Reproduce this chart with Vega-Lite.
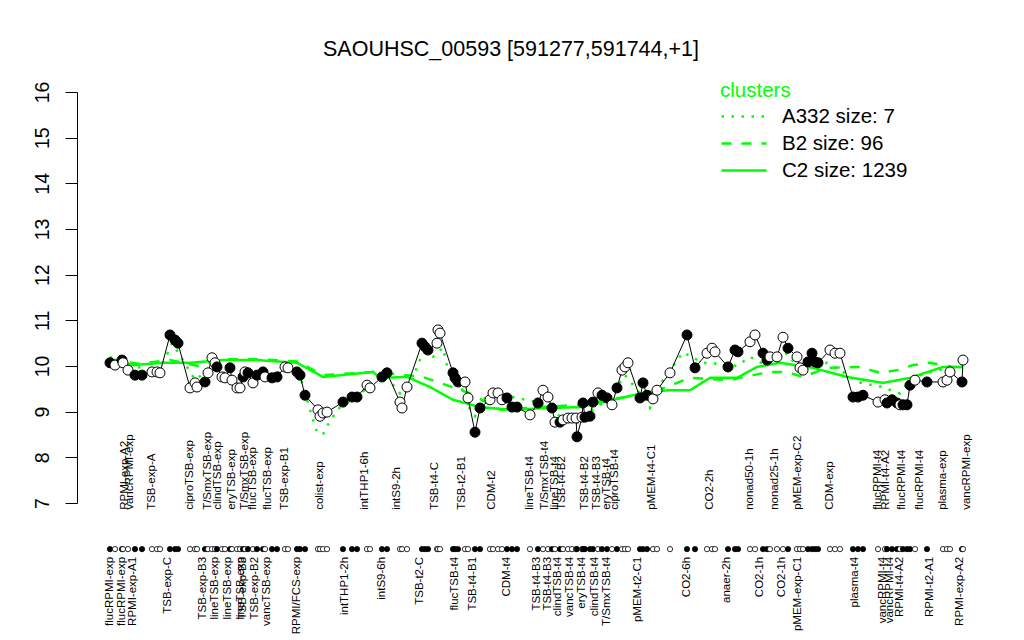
{
  "$schema": "https://vega.github.io/schema/vega-lite/v6.json",
  "width": 924,
  "height": 411,
  "autosize": {"type": "none"},
  "padding": {"left": 77, "top": 92, "right": 23, "bottom": 137},
  "background": "white",
  "title": {"text": "SAOUHSC_00593 [591277,591744,+1]", "fontSize": 21.5, "fontWeight": "normal", "font": "Liberation Sans", "color": "black", "anchor": "middle", "frame": "group", "dx": -28, "offset": 21},
  "config": {"view": {"stroke": null}, "font": "Liberation Sans"},
  "datasets": {
    "pts": [
      {"pos": 2, "val": 10.07, "f": "B"}, {"pos": 7, "val": 10.02, "f": "W"}, {"pos": 14, "val": 10.13, "f": "B"}, {"pos": 15, "val": 10.07, "f": "W"},
      {"pos": 20, "val": 9.91, "f": "W"}, {"pos": 27, "val": 9.80, "f": "B"}, {"pos": 34, "val": 9.80, "f": "B"}, {"pos": 44, "val": 9.87, "f": "W"},
      {"pos": 49, "val": 9.87, "f": "W"}, {"pos": 52, "val": 9.85, "f": "W"}, {"pos": 62, "val": 10.68, "f": "B"}, {"pos": 67, "val": 10.57, "f": "B"},
      {"pos": 70, "val": 10.50, "f": "B"}, {"pos": 82, "val": 9.52, "f": "W"}, {"pos": 87, "val": 9.63, "f": "W"}, {"pos": 89, "val": 9.54, "f": "W"},
      {"pos": 97, "val": 9.65, "f": "B"}, {"pos": 100, "val": 9.85, "f": "W"}, {"pos": 104, "val": 10.18, "f": "W"}, {"pos": 107, "val": 10.07, "f": "W"},
      {"pos": 109, "val": 9.98, "f": "B"}, {"pos": 114, "val": 9.76, "f": "W"}, {"pos": 117, "val": 9.74, "f": "W"}, {"pos": 122, "val": 9.96, "f": "B"},
      {"pos": 124, "val": 9.69, "f": "W"}, {"pos": 129, "val": 9.52, "f": "W"}, {"pos": 132, "val": 9.52, "f": "W"}, {"pos": 135, "val": 9.76, "f": "B"},
      {"pos": 137, "val": 9.87, "f": "W"}, {"pos": 140, "val": 9.85, "f": "B"}, {"pos": 145, "val": 9.63, "f": "W"}, {"pos": 149, "val": 9.80, "f": "B"},
      {"pos": 155, "val": 9.87, "f": "B"}, {"pos": 157, "val": 9.76, "f": "W"}, {"pos": 164, "val": 9.74, "f": "B"}, {"pos": 169, "val": 9.76, "f": "B"},
      {"pos": 177, "val": 9.98, "f": "W"}, {"pos": 180, "val": 9.96, "f": "W"}, {"pos": 189, "val": 9.87, "f": "B"}, {"pos": 192, "val": 9.80, "f": "B"},
      {"pos": 197, "val": 9.36, "f": "B"}, {"pos": 210, "val": 9.04, "f": "W"}, {"pos": 212, "val": 8.90, "f": "W"}, {"pos": 215, "val": 8.97, "f": "W"},
      {"pos": 219, "val": 8.99, "f": "W"}, {"pos": 235, "val": 9.21, "f": "B"}, {"pos": 244, "val": 9.32, "f": "B"}, {"pos": 249, "val": 9.32, "f": "B"},
      {"pos": 259, "val": 9.58, "f": "W"}, {"pos": 262, "val": 9.52, "f": "W"}, {"pos": 274, "val": 9.76, "f": "B"}, {"pos": 279, "val": 9.85, "f": "B"},
      {"pos": 292, "val": 9.21, "f": "W"}, {"pos": 294, "val": 9.08, "f": "W"}, {"pos": 299, "val": 9.54, "f": "W"}, {"pos": 314, "val": 10.50, "f": "B"},
      {"pos": 317, "val": 10.42, "f": "B"}, {"pos": 320, "val": 10.35, "f": "B"}, {"pos": 329, "val": 10.50, "f": "W"}, {"pos": 330, "val": 10.79, "f": "W"},
      {"pos": 332, "val": 10.72, "f": "W"}, {"pos": 345, "val": 9.85, "f": "B"}, {"pos": 347, "val": 9.74, "f": "B"}, {"pos": 350, "val": 9.65, "f": "B"},
      {"pos": 357, "val": 9.65, "f": "W"}, {"pos": 360, "val": 9.30, "f": "W"}, {"pos": 367, "val": 8.55, "f": "B"}, {"pos": 372, "val": 9.08, "f": "B"},
      {"pos": 382, "val": 9.26, "f": "W"}, {"pos": 385, "val": 9.41, "f": "W"}, {"pos": 390, "val": 9.41, "f": "W"}, {"pos": 394, "val": 9.26, "f": "W"},
      {"pos": 399, "val": 9.30, "f": "B"}, {"pos": 404, "val": 9.10, "f": "B"}, {"pos": 409, "val": 9.10, "f": "B"}, {"pos": 422, "val": 8.93, "f": "W"},
      {"pos": 430, "val": 9.19, "f": "B"}, {"pos": 435, "val": 9.47, "f": "W"}, {"pos": 440, "val": 9.32, "f": "W"}, {"pos": 444, "val": 9.08, "f": "B"},
      {"pos": 447, "val": 8.77, "f": "W"}, {"pos": 452, "val": 8.77, "f": "B"}, {"pos": 455, "val": 8.82, "f": "W"}, {"pos": 460, "val": 8.86, "f": "W"},
      {"pos": 464, "val": 8.86, "f": "W"}, {"pos": 468, "val": 8.86, "f": "W"}, {"pos": 469, "val": 8.45, "f": "B"}, {"pos": 474, "val": 8.88, "f": "W"},
      {"pos": 475, "val": 9.19, "f": "B"}, {"pos": 477, "val": 8.88, "f": "B"}, {"pos": 482, "val": 8.90, "f": "B"}, {"pos": 485, "val": 9.21, "f": "B"},
      {"pos": 490, "val": 9.41, "f": "W"}, {"pos": 494, "val": 9.36, "f": "B"}, {"pos": 499, "val": 9.30, "f": "B"}, {"pos": 504, "val": 9.15, "f": "W"},
      {"pos": 509, "val": 9.52, "f": "B"}, {"pos": 514, "val": 9.91, "f": "W"}, {"pos": 517, "val": 9.98, "f": "W"}, {"pos": 520, "val": 10.07, "f": "W"},
      {"pos": 532, "val": 9.30, "f": "B"}, {"pos": 535, "val": 9.63, "f": "B"}, {"pos": 539, "val": 9.36, "f": "B"}, {"pos": 545, "val": 9.28, "f": "W"},
      {"pos": 549, "val": 9.47, "f": "W"}, {"pos": 562, "val": 9.85, "f": "W"}, {"pos": 579, "val": 10.68, "f": "B"}, {"pos": 587, "val": 9.96, "f": "B"},
      {"pos": 599, "val": 10.28, "f": "W"}, {"pos": 604, "val": 10.39, "f": "W"}, {"pos": 607, "val": 10.31, "f": "W"}, {"pos": 620, "val": 9.98, "f": "B"},
      {"pos": 627, "val": 10.35, "f": "B"}, {"pos": 630, "val": 10.31, "f": "B"}, {"pos": 642, "val": 10.53, "f": "W"}, {"pos": 647, "val": 10.68, "f": "W"},
      {"pos": 655, "val": 10.28, "f": "B"}, {"pos": 659, "val": 10.13, "f": "B"}, {"pos": 662, "val": 10.20, "f": "W"}, {"pos": 669, "val": 10.20, "f": "W"},
      {"pos": 675, "val": 10.63, "f": "W"}, {"pos": 680, "val": 10.39, "f": "B"}, {"pos": 689, "val": 10.20, "f": "W"}, {"pos": 692, "val": 9.96, "f": "W"},
      {"pos": 695, "val": 9.91, "f": "W"}, {"pos": 700, "val": 10.09, "f": "B"}, {"pos": 704, "val": 10.28, "f": "B"}, {"pos": 707, "val": 10.09, "f": "B"},
      {"pos": 710, "val": 10.07, "f": "B"}, {"pos": 722, "val": 10.35, "f": "W"}, {"pos": 727, "val": 10.28, "f": "W"}, {"pos": 732, "val": 10.28, "f": "W"},
      {"pos": 745, "val": 9.32, "f": "B"}, {"pos": 750, "val": 9.32, "f": "B"}, {"pos": 755, "val": 9.36, "f": "B"}, {"pos": 770, "val": 9.21, "f": "W"},
      {"pos": 777, "val": 9.26, "f": "W"}, {"pos": 779, "val": 9.19, "f": "B"}, {"pos": 784, "val": 9.26, "f": "B"}, {"pos": 789, "val": 9.19, "f": "B"},
      {"pos": 792, "val": 9.15, "f": "W"}, {"pos": 795, "val": 9.15, "f": "B"}, {"pos": 799, "val": 9.15, "f": "B"}, {"pos": 802, "val": 9.58, "f": "B"},
      {"pos": 807, "val": 9.69, "f": "W"}, {"pos": 819, "val": 9.65, "f": "B"}, {"pos": 835, "val": 9.65, "f": "W"}, {"pos": 839, "val": 9.69, "f": "W"},
      {"pos": 842, "val": 9.87, "f": "W"}, {"pos": 854, "val": 9.65, "f": "B"}, {"pos": 855, "val": 10.13, "f": "W"}
    ],
    "clus": [
      {"cluster": "C2 size: 1239", "pos": 2, "val": 10.12}, {"cluster": "C2 size: 1239", "pos": 25, "val": 10.02}, {"cluster": "C2 size: 1239", "pos": 55, "val": 10.07},
      {"cluster": "C2 size: 1239", "pos": 82, "val": 10.07}, {"cluster": "C2 size: 1239", "pos": 115, "val": 10.13}, {"cluster": "C2 size: 1239", "pos": 149, "val": 10.13},
      {"cluster": "C2 size: 1239", "pos": 189, "val": 10.07}, {"cluster": "C2 size: 1239", "pos": 215, "val": 9.76}, {"cluster": "C2 size: 1239", "pos": 265, "val": 9.87},
      {"cluster": "C2 size: 1239", "pos": 272, "val": 9.74}, {"cluster": "C2 size: 1239", "pos": 299, "val": 9.76}, {"cluster": "C2 size: 1239", "pos": 322, "val": 9.54},
      {"cluster": "C2 size: 1239", "pos": 345, "val": 9.26}, {"cluster": "C2 size: 1239", "pos": 372, "val": 9.10}, {"cluster": "C2 size: 1239", "pos": 405, "val": 9.04},
      {"cluster": "C2 size: 1239", "pos": 439, "val": 9.08}, {"cluster": "C2 size: 1239", "pos": 472, "val": 9.10}, {"cluster": "C2 size: 1239", "pos": 505, "val": 9.26},
      {"cluster": "C2 size: 1239", "pos": 539, "val": 9.43}, {"cluster": "C2 size: 1239", "pos": 562, "val": 9.47}, {"cluster": "C2 size: 1239", "pos": 582, "val": 9.47},
      {"cluster": "C2 size: 1239", "pos": 602, "val": 9.74}, {"cluster": "C2 size: 1239", "pos": 629, "val": 9.74}, {"cluster": "C2 size: 1239", "pos": 649, "val": 9.98},
      {"cluster": "C2 size: 1239", "pos": 672, "val": 10.07}, {"cluster": "C2 size: 1239", "pos": 705, "val": 9.96}, {"cluster": "C2 size: 1239", "pos": 739, "val": 9.76},
      {"cluster": "C2 size: 1239", "pos": 775, "val": 9.63}, {"cluster": "C2 size: 1239", "pos": 802, "val": 9.74}, {"cluster": "C2 size: 1239", "pos": 835, "val": 9.98},
      {"cluster": "C2 size: 1239", "pos": 855, "val": 9.98},
      {"cluster": "B2 size: 96", "pos": 2, "val": 10.15}, {"cluster": "B2 size: 96", "pos": 30, "val": 10.05}, {"cluster": "B2 size: 96", "pos": 62, "val": 10.13},
      {"cluster": "B2 size: 96", "pos": 90, "val": 10.0}, {"cluster": "B2 size: 96", "pos": 115, "val": 10.15}, {"cluster": "B2 size: 96", "pos": 149, "val": 10.15},
      {"cluster": "B2 size: 96", "pos": 189, "val": 10.1}, {"cluster": "B2 size: 96", "pos": 215, "val": 9.8}, {"cluster": "B2 size: 96", "pos": 265, "val": 9.87},
      {"cluster": "B2 size: 96", "pos": 315, "val": 9.76}, {"cluster": "B2 size: 96", "pos": 332, "val": 9.63}, {"cluster": "B2 size: 96", "pos": 362, "val": 9.4},
      {"cluster": "B2 size: 96", "pos": 392, "val": 9.04}, {"cluster": "B2 size: 96", "pos": 432, "val": 9.1}, {"cluster": "B2 size: 96", "pos": 472, "val": 9.15},
      {"cluster": "B2 size: 96", "pos": 512, "val": 9.3}, {"cluster": "B2 size: 96", "pos": 542, "val": 9.4}, {"cluster": "B2 size: 96", "pos": 582, "val": 9.74},
      {"cluster": "B2 size: 96", "pos": 622, "val": 9.69}, {"cluster": "B2 size: 96", "pos": 645, "val": 9.8}, {"cluster": "B2 size: 96", "pos": 662, "val": 9.87},
      {"cluster": "B2 size: 96", "pos": 679, "val": 9.87}, {"cluster": "B2 size: 96", "pos": 695, "val": 9.76}, {"cluster": "B2 size: 96", "pos": 719, "val": 9.96},
      {"cluster": "B2 size: 96", "pos": 752, "val": 9.98}, {"cluster": "B2 size: 96", "pos": 772, "val": 9.85}, {"cluster": "B2 size: 96", "pos": 789, "val": 9.91},
      {"cluster": "B2 size: 96", "pos": 805, "val": 10.02}, {"cluster": "B2 size: 96", "pos": 822, "val": 10.07}, {"cluster": "B2 size: 96", "pos": 845, "val": 9.98},
      {"cluster": "B2 size: 96", "pos": 855, "val": 9.98},
      {"cluster": "A332 size: 7", "pos": 2, "val": 10.2}, {"cluster": "A332 size: 7", "pos": 22, "val": 10.0}, {"cluster": "A332 size: 7", "pos": 52, "val": 9.9},
      {"cluster": "A332 size: 7", "pos": 64, "val": 10.5}, {"cluster": "A332 size: 7", "pos": 70, "val": 10.3}, {"cluster": "A332 size: 7", "pos": 87, "val": 9.7},
      {"cluster": "A332 size: 7", "pos": 107, "val": 10.0}, {"cluster": "A332 size: 7", "pos": 132, "val": 9.6}, {"cluster": "A332 size: 7", "pos": 152, "val": 9.8},
      {"cluster": "A332 size: 7", "pos": 182, "val": 9.9}, {"cluster": "A332 size: 7", "pos": 192, "val": 9.8}, {"cluster": "A332 size: 7", "pos": 197, "val": 9.4},
      {"cluster": "A332 size: 7", "pos": 204, "val": 8.9}, {"cluster": "A332 size: 7", "pos": 209, "val": 8.55}, {"cluster": "A332 size: 7", "pos": 215, "val": 8.5},
      {"cluster": "A332 size: 7", "pos": 222, "val": 8.8}, {"cluster": "A332 size: 7", "pos": 232, "val": 9.1}, {"cluster": "A332 size: 7", "pos": 249, "val": 9.3},
      {"cluster": "A332 size: 7", "pos": 262, "val": 9.6}, {"cluster": "A332 size: 7", "pos": 277, "val": 9.8}, {"cluster": "A332 size: 7", "pos": 292, "val": 9.4},
      {"cluster": "A332 size: 7", "pos": 302, "val": 9.6}, {"cluster": "A332 size: 7", "pos": 315, "val": 10.3}, {"cluster": "A332 size: 7", "pos": 325, "val": 10.2},
      {"cluster": "A332 size: 7", "pos": 335, "val": 10.4}, {"cluster": "A332 size: 7", "pos": 339, "val": 10.0}, {"cluster": "A332 size: 7", "pos": 352, "val": 9.6},
      {"cluster": "A332 size: 7", "pos": 362, "val": 9.05}, {"cluster": "A332 size: 7", "pos": 367, "val": 8.9}, {"cluster": "A332 size: 7", "pos": 377, "val": 9.3},
      {"cluster": "A332 size: 7", "pos": 392, "val": 9.4}, {"cluster": "A332 size: 7", "pos": 409, "val": 9.3}, {"cluster": "A332 size: 7", "pos": 432, "val": 9.2},
      {"cluster": "A332 size: 7", "pos": 452, "val": 8.9}, {"cluster": "A332 size: 7", "pos": 469, "val": 8.75}, {"cluster": "A332 size: 7", "pos": 482, "val": 9.0},
      {"cluster": "A332 size: 7", "pos": 502, "val": 9.3}, {"cluster": "A332 size: 7", "pos": 517, "val": 9.8}, {"cluster": "A332 size: 7", "pos": 532, "val": 9.4},
      {"cluster": "A332 size: 7", "pos": 542, "val": 9.08}, {"cluster": "A332 size: 7", "pos": 552, "val": 9.6}, {"cluster": "A332 size: 7", "pos": 575, "val": 10.3},
      {"cluster": "A332 size: 7", "pos": 595, "val": 10.07}, {"cluster": "A332 size: 7", "pos": 612, "val": 10.05}, {"cluster": "A332 size: 7", "pos": 629, "val": 10.0},
      {"cluster": "A332 size: 7", "pos": 642, "val": 10.2}, {"cluster": "A332 size: 7", "pos": 659, "val": 10.0}, {"cluster": "A332 size: 7", "pos": 679, "val": 10.28},
      {"cluster": "A332 size: 7", "pos": 692, "val": 9.9}, {"cluster": "A332 size: 7", "pos": 719, "val": 10.07}, {"cluster": "A332 size: 7", "pos": 735, "val": 9.87},
      {"cluster": "A332 size: 7", "pos": 749, "val": 9.65}, {"cluster": "A332 size: 7", "pos": 772, "val": 9.55}, {"cluster": "A332 size: 7", "pos": 792, "val": 9.4},
      {"cluster": "A332 size: 7", "pos": 802, "val": 9.7}, {"cluster": "A332 size: 7", "pos": 819, "val": 9.85}, {"cluster": "A332 size: 7", "pos": 839, "val": 9.95},
      {"cluster": "A332 size: 7", "pos": 855, "val": 9.98}
    ],
    "labs": [
      {"row": "top", "pos": 17, "name": "RPMI-exp-A2"}, {"row": "top", "pos": 22, "name": "vancRPMI-exp"}, {"row": "top", "pos": 44, "name": "TSB-exp-A"},
      {"row": "top", "pos": 82, "name": "ciproTSB-exp"}, {"row": "top", "pos": 100, "name": "T/SmxTSB-exp"}, {"row": "top", "pos": 110, "name": "clindTSB-exp"},
      {"row": "top", "pos": 124, "name": "eryTSB-exp"}, {"row": "top", "pos": 137, "name": "T/SmxTSB-exp"}, {"row": "top", "pos": 145, "name": "flucTSB-exp"},
      {"row": "top", "pos": 160, "name": "flucTSB-exp"}, {"row": "top", "pos": 177, "name": "TSB-exp-B1"}, {"row": "top", "pos": 212, "name": "colist-exp"},
      {"row": "top", "pos": 257, "name": "intTHP1-6h"}, {"row": "top", "pos": 289, "name": "intS9-2h"}, {"row": "top", "pos": 327, "name": "TSB-t4-C"},
      {"row": "top", "pos": 354, "name": "TSB-t2-B1"}, {"row": "top", "pos": 384, "name": "CDM-t2"}, {"row": "top", "pos": 422, "name": "lineTSB-t4"},
      {"row": "top", "pos": 437, "name": "T/SmxTSB-t4"}, {"row": "top", "pos": 447, "name": "lineTSB-t4"}, {"row": "top", "pos": 454, "name": "TSB-t4-B2"},
      {"row": "top", "pos": 477, "name": "TSB-t4-B2"}, {"row": "top", "pos": 489, "name": "TSB-t4-B3"}, {"row": "top", "pos": 499, "name": "eryTSB-t4"},
      {"row": "top", "pos": 507, "name": "ciproTSB-t4"}, {"row": "top", "pos": 544, "name": "pMEM-t4-C1"}, {"row": "top", "pos": 602, "name": "CO2-2h"},
      {"row": "top", "pos": 642, "name": "nonad50-1h"}, {"row": "top", "pos": 667, "name": "nonad25-1h"}, {"row": "top", "pos": 690, "name": "pMEM-exp-C2"},
      {"row": "top", "pos": 722, "name": "CDM-exp"}, {"row": "top", "pos": 770, "name": "flucRPMI-t4"}, {"row": "top", "pos": 778, "name": "RPMI-t4-A2"},
      {"row": "top", "pos": 794, "name": "flucRPMI-t4"}, {"row": "top", "pos": 812, "name": "flucRPMI-t4"}, {"row": "top", "pos": 835, "name": "plasma-exp"},
      {"row": "top", "pos": 859, "name": "vancRPMI-exp"},
      {"row": "bottom", "pos": 2, "name": "flucRPMI-exp"}, {"row": "bottom", "pos": 14, "name": "flucRPMI-exp"}, {"row": "bottom", "pos": 25, "name": "RPMI-exp-A1"},
      {"row": "bottom", "pos": 60, "name": "TSB-exp-C"}, {"row": "bottom", "pos": 95, "name": "TSB-exp-B3"}, {"row": "bottom", "pos": 107, "name": "lineTSB-exp"},
      {"row": "bottom", "pos": 120, "name": "lineTSB-exp"}, {"row": "bottom", "pos": 133, "name": "lineTSB-exp"}, {"row": "bottom", "pos": 135, "name": "TSB-exp-B3"},
      {"row": "bottom", "pos": 147, "name": "TSB-exp-B2"}, {"row": "bottom", "pos": 159, "name": "vancTSB-exp"}, {"row": "bottom", "pos": 189, "name": "RPMI/FCS-exp"},
      {"row": "bottom", "pos": 237, "name": "intTHP1-2h"}, {"row": "bottom", "pos": 274, "name": "intS9-6h"}, {"row": "bottom", "pos": 312, "name": "TSB-t2-C"},
      {"row": "bottom", "pos": 347, "name": "flucTSB-t4"}, {"row": "bottom", "pos": 365, "name": "TSB-t4-B1"}, {"row": "bottom", "pos": 399, "name": "CDM-t4"},
      {"row": "bottom", "pos": 429, "name": "TSB-t4-B3"}, {"row": "bottom", "pos": 440, "name": "TSB-t4-B3"}, {"row": "bottom", "pos": 450, "name": "clindTSB-t4"},
      {"row": "bottom", "pos": 462, "name": "vancTSB-t4"}, {"row": "bottom", "pos": 474, "name": "eryTSB-t4"}, {"row": "bottom", "pos": 487, "name": "clindTSB-t4"},
      {"row": "bottom", "pos": 499, "name": "T/SmxTSB-t4"}, {"row": "bottom", "pos": 530, "name": "pMEM-t2-C1"}, {"row": "bottom", "pos": 579, "name": "CO2-6h"},
      {"row": "bottom", "pos": 619, "name": "anaer-2h"}, {"row": "bottom", "pos": 652, "name": "CO2-1h"}, {"row": "bottom", "pos": 674, "name": "CO2-1h"},
      {"row": "bottom", "pos": 690, "name": "pMEM-exp-C1"}, {"row": "bottom", "pos": 747, "name": "plasma-t4"}, {"row": "bottom", "pos": 775, "name": "vancRPMI-t4"},
      {"row": "bottom", "pos": 782, "name": "vancRPMI-t4"}, {"row": "bottom", "pos": 792, "name": "RPMI-t4-A2"}, {"row": "bottom", "pos": 822, "name": "RPMI-t2-A1"},
      {"row": "bottom", "pos": 852, "name": "RPMI-exp-A2"}
    ]
  },
  "layer": [
    {
      "data": {"name": "clus"},
      "mark": {"type": "line", "color": "#00ff00", "strokeWidth": 2.5},
      "encoding": {
        "x": {"field": "pos", "type": "quantitative", "scale": {"domain": [-31, 893], "nice": false, "zero": false}, "axis": null},
        "y": {"field": "val", "type": "quantitative", "scale": {"domain": [7, 16], "nice": false, "zero": false},
              "axis": {"values": [7, 8, 9, 10, 11, 12, 13, 14, 15, 16], "grid": false, "title": null, "domainColor": "black", "tickColor": "black", "tickSize": 12, "labelAngle": 270, "labelFontSize": 19.5, "labelColor": "black", "labelPadding": 17, "labelAlign": "center", "labelBaseline": "alphabetic", "labelFont": "Liberation Sans"}},
        "strokeDash": {"field": "cluster", "type": "nominal",
          "scale": {"domain": ["A332 size: 7", "B2 size: 96", "C2 size: 1239"], "range": [[2.5, 7.5], [10, 10], [1, 0]]},
          "legend": {"title": "clusters", "orient": "none", "legendX": 643, "legendY": -11, "symbolType": "stroke", "symbolSize": 2025, "symbolStrokeWidth": 2.5, "symbolStrokeColor": "#00ff00", "labelFontSize": 20.5, "labelColor": "black", "labelFont": "Liberation Sans", "titleFontSize": 20.5, "titleColor": "#00ff00", "titleFontWeight": "normal", "titleFont": "Liberation Sans", "clipHeight": 26, "rowPadding": 1, "labelOffset": 14, "titlePadding": 2}}
      }
    },
    {
      "data": {"name": "pts"},
      "mark": {"type": "line", "color": "black", "strokeWidth": 1},
      "encoding": {
        "x": {"field": "pos", "type": "quantitative"},
        "y": {"field": "val", "type": "quantitative"}
      }
    },
    {
      "data": {"name": "pts"},
      "mark": {"type": "circle", "stroke": "black", "strokeWidth": 1, "size": 100, "opacity": 1},
      "encoding": {
        "x": {"field": "pos", "type": "quantitative"},
        "y": {"field": "val", "type": "quantitative"},
        "fill": {"field": "f", "type": "nominal", "scale": {"domain": ["B", "W"], "range": ["black", "white"]}, "legend": null}
      }
    },
    {
      "data": {"name": "pts"},
      "mark": {"type": "circle", "stroke": "black", "strokeWidth": 0.8, "size": 28, "opacity": 1},
      "encoding": {
        "x": {"field": "pos", "type": "quantitative"},
        "y": {"datum": 5.99},
        "fill": {"field": "f", "type": "nominal", "scale": {"domain": ["B", "W"], "range": ["black", "white"]}, "legend": null}
      }
    },
    {
      "data": {"name": "labs"},
      "transform": [{"filter": "datum.row === 'top'"}],
      "mark": {"type": "text", "angle": 270, "align": "left", "baseline": "middle", "fontSize": 11.5, "color": "black", "font": "Liberation Sans"},
      "encoding": {
        "x": {"field": "pos", "type": "quantitative"},
        "y": {"datum": 6.85},
        "text": {"field": "name"}
      }
    },
    {
      "data": {"name": "labs"},
      "transform": [{"filter": "datum.row === 'bottom'"}],
      "mark": {"type": "text", "angle": 270, "align": "right", "baseline": "middle", "fontSize": 11.5, "color": "black", "font": "Liberation Sans"},
      "encoding": {
        "x": {"field": "pos", "type": "quantitative"},
        "y": {"datum": 5.82},
        "text": {"field": "name"}
      }
    }
  ]
}
